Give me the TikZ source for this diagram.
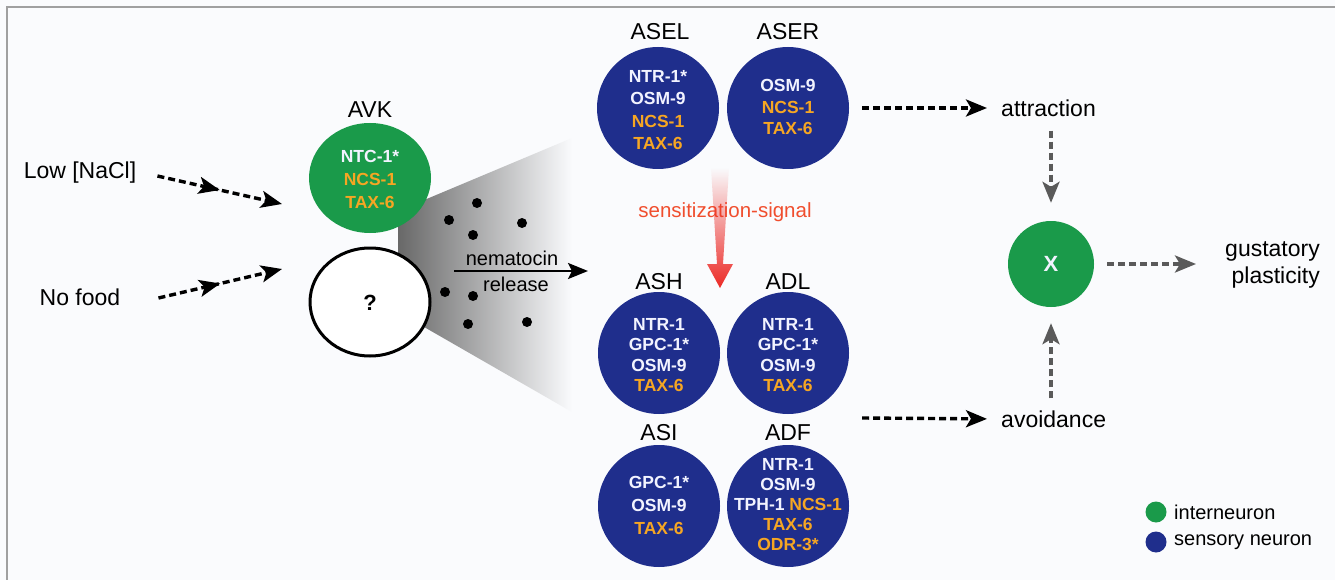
\documentclass[tikz,border=0pt]{standalone}
\usepackage{fontspec}
\setmainfont{Liberation Sans}
\usetikzlibrary{arrows.meta,shapes.geometric,decorations.markings,fadings,calc}
\definecolor{bg}{HTML}{FAFBFD}
\definecolor{nblue}{HTML}{1F2E8C}
\definecolor{ngreen}{HTML}{1A9A4A}
\definecolor{norange}{HTML}{F6A623}
\definecolor{nwhite}{HTML}{F2F3FF}
\definecolor{sred}{HTML}{EC2A26}
\definecolor{stext}{HTML}{F04E2E}
\definecolor{dgray}{HTML}{5A5A5A}
\definecolor{framegray}{HTML}{A0A0A0}
\definecolor{shadegray}{HTML}{686868}
\newcommand{\orng}[1]{\textcolor{norange}{#1}}
\begin{document}
\begin{tikzpicture}[x=1pt,y=-1pt,
  lbl/.style={font=\fontsize{23}{27}\selectfont, inner sep=0pt, text=black},
  smalllbl/.style={font=\fontsize{20}{24}\selectfont, inner sep=0pt, text=black},
  sensory/.style={circle, fill=nblue, minimum size=122pt, inner sep=0pt},
  inter/.style={ellipse, fill=ngreen, minimum width=122pt, minimum height=110pt, inner sep=0pt},
  intext/.style={align=center, inner sep=0pt, text=nwhite, font=\bfseries\fontsize{17.5}{21.5}\selectfont},
  bigtext/.style={inner sep=0pt, font=\bfseries\fontsize{22}{26}\selectfont},
  tipstyle/.style={-{Stealth[length=21pt,width=17pt,inset=5pt]}},
  blackarrow/.style={draw=black, line width=3.4pt, dash pattern=on 7pt off 4pt, tipstyle},
  grayarrow/.style={draw=dgray, line width=3.4pt, dash pattern=on 7pt off 4pt, tipstyle},
  midtip/.style={postaction={decorate}, decoration={markings, mark=at position 0.5 with {\arrow{Stealth[length=21pt,width=17pt,inset=5pt]}}}},
  dot/.style={circle, fill=black, minimum size=10pt, inner sep=0pt},
  legdot/.style={circle, minimum size=21pt, inner sep=0pt}
]
\useasboundingbox (0,0) rectangle (1335,580);
\fill[bg] (0,0) rectangle (1335,580);
\draw[framegray, line width=2.5pt] (7,580) -- (7,7) -- (1335,7);

% nematocin cloud
\shade[left color=shadegray, right color=bg] (398,211) -- (572,138) -- (572,412) -- (398,312) -- cycle;
\node[dot] (d1) at (477,203) {};
\node[dot] (d2) at (449,220) {};
\node[dot] (d3) at (473,235) {};
\node[dot] (d4) at (522,223) {};
\node[dot] (d5) at (445,292) {};
\node[dot] (d6) at (473,296) {};
\node[dot] (d7) at (468,324) {};
\node[dot] (d8) at (527,322) {};
\node[smalllbl] (nema) at (512,258) {nematocin};
\node[smalllbl] (rel) at (516,284) {release};
\coordinate (nemaA) at (454,271);
\coordinate (nemaB) at (588,271);
\draw[line width=2.6pt, -{Stealth[length=20pt,width=16pt,inset=4pt]}] (nemaA) -- (nemaB);

% AVK and unknown neuron
\node[lbl] (avklbl) at (370,110) {AVK};
\node[inter] (avk) at (370,178) {};
\node[intext, font=\bfseries\fontsize{17.5}{23}\selectfont] (avkt) at (370,179) {NTC-1*\\\orng{NCS-1}\\\orng{TAX-6}};
\node[ellipse, draw=black, fill=white, line width=3pt, minimum width=120pt, minimum height=108pt, inner sep=0pt] (unk) at (370,302) {};
\node[bigtext, text=black] (unkt) at (370,303) {?};

% inputs
\node[lbl] (low) at (80,173) {Low [NaCl]};
\node[lbl] (nofood) at (80,297) {No food};
\coordinate (in1) at (282,204);
\coordinate (in2) at (282,269);
\draw[blackarrow, midtip] ([xshift=21pt,yshift=-3pt]low.east) -- (in1);
\draw[blackarrow, midtip] ([xshift=38pt,yshift=-1pt]nofood.east) -- (in2);

% sensory neurons
\node[lbl] (asellbl) at (660,32) {ASEL};
\node[lbl] (aserlbl) at (788,32) {ASER};
\node[sensory] (asel) at (658,108) {};
\node[sensory] (aser) at (788,108) {};
\node[intext, font=\bfseries\fontsize{17.5}{22.3}\selectfont] (aselt) at (658,110) {NTR-1*\\OSM-9\\\orng{NCS-1}\\\orng{TAX-6}};
\node[intext] (asert) at (788,107) {OSM-9\\\orng{NCS-1}\\\orng{TAX-6}};

\node[lbl] (ashlbl) at (659,282) {ASH};
\node[lbl] (adllbl) at (788,282) {ADL};
\node[sensory] (ash) at (659,353) {};
\node[sensory] (adl) at (788,353) {};
\node[intext, font=\bfseries\fontsize{17.5}{20.3}\selectfont] (asht) at (659,355) {NTR-1\\GPC-1*\\OSM-9\\\orng{TAX-6}};
\node[intext, font=\bfseries\fontsize{17.5}{20.3}\selectfont] (adlt) at (788,355) {NTR-1\\GPC-1*\\OSM-9\\\orng{TAX-6}};

\node[lbl] (asilbl) at (659,433) {ASI};
\node[lbl] (adflbl) at (788,433) {ADF};
\node[sensory] (asi) at (659,506) {};
\node[sensory] (adf) at (788,506) {};
\node[intext, font=\bfseries\fontsize{17.5}{23}\selectfont] (asit) at (659,505) {GPC-1*\\OSM-9\\\orng{TAX-6}};
\node[intext, font=\bfseries\fontsize{17.5}{20}\selectfont] (adft) at (788,505) {NTR-1\\OSM-9\\TPH-1 \orng{NCS-1}\\\orng{TAX-6}\\\orng{ODR-3*}};

% sensitization signal
\node[font=\fontsize{20.5}{24}\selectfont, text=stext, inner sep=0pt] (senslbl) at (725,212) {sensitization-signal};
\fill[sred, path fading=north] (711,168) -- (729,168) -- (723,264) -- (733,264) -- (720,288) -- (707,264) -- (717,264) -- cycle;

% outputs
\node[lbl, anchor=west] (attr) at (1001,108) {attraction};
\node[lbl, anchor=west] (avoid) at (1001,419) {avoidance};
\node[circle, fill=ngreen, minimum size=86pt, inner sep=0pt] (xn) at (1051,264) {};
\node[bigtext, text=nwhite] (xt) at (1051,264) {X};
\node[lbl, anchor=east, align=right, font=\fontsize{23}{27}\selectfont] (gust) at (1320,265) {gustatory\\plasticity};
\coordinate (avstart) at (862,418);
\draw[blackarrow, shorten <=13pt, shorten >=14pt] (aser.east) -- (attr.west);
\draw[blackarrow, shorten >=14pt] (avstart) -- (avoid.west);
\draw[grayarrow, shorten <=14pt, shorten >=18pt] (xn.north |- attr.south) -- (xn.north);
\draw[grayarrow, shorten <=12pt, shorten >=16pt] (xn.south |- avoid.north) -- (xn.south);
\draw[grayarrow, shorten <=13pt, shorten >=29pt] (xn.east) -- (gust.west |- xn.east);

% legend
\node[legdot, fill=ngreen] (leg1) at (1156,512) {};
\node[legdot, fill=nblue] (leg2) at (1156,542) {};
\node[smalllbl, anchor=west] (leg1t) at (1174,512) {interneuron};
\node[smalllbl, anchor=west] (leg2t) at (1174,542) {sensory neuron};
\end{tikzpicture}
\end{document}
